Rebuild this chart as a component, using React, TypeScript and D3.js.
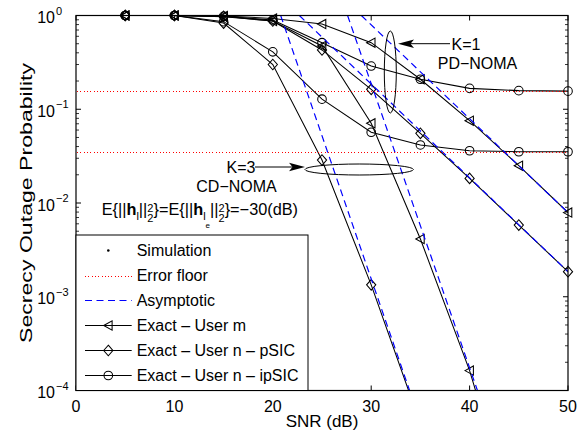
import React from "react";
import * as d3 from "d3";

const snr = [5, 10, 15, 20, 25, 30, 35, 40, 45, 50];
const k1UserM = [1, 1, 0.99, 0.93, 0.81, 0.513, 0.209, 0.0755, 0.025, 0.0079];
const k1PSIC = [1, 1, 0.98, 0.874, 0.429, 0.163, 0.0554, 0.0183, 0.00582, 0.00185];
const k1IPSIC = [1, 1, 0.98, 0.895, 0.513, 0.289, 0.209, 0.167, 0.158, 0.156];
const k3UserM = [1, 1, 0.97, 0.874, 0.473, 0.0708, 0.00413, 0.000163, 0.0000029];
const k3PSIC = [1, 1, 0.83, 0.3, 0.0287, 0.00134, 0.000044];
const k3IPSIC = [1, 1, 0.86, 0.41, 0.128, 0.0568, 0.0416, 0.0361, 0.0352, 0.0352];

const asymK1MSnr = [29.0, 50];
const asymK1MVal = [1, 0.0079];
const asymK1PSnr = [22.7, 50];
const asymK1PVal = [1, 0.00185];
const asymK3MSnr = [27.6, 40.8];
const asymK3MVal = [1, 0.0001];
const asymK3PSnr = [20.8, 33.9];
const asymK3PVal = [1, 0.0001];

const errorFloors = [0.155, 0.0352];

const xTicks = [0, 10, 20, 30, 40, 50];
const yExps = [0, -1, -2, -3, -4];

const legendLabels = [
  "Simulation",
  "Error floor",
  "Asymptotic",
  "Exact \u2013 User m",
  "Exact \u2013 User n \u2013 pSIC",
  "Exact \u2013 User n \u2013 ipSIC",
];

const FONT = "'Liberation Sans', Arial, Helvetica, sans-serif";
const L = 76, R = 568, T = 15.5, B = 390.5;

const x = d3.scaleLinear().domain([0, 50]).range([L, R]);
const y = d3.scaleLog().domain([1e-4, 1]).range([B, T]);

type MarkerKind = "tri" | "dia" | "circ";

function Marker({ kind, cx, cy }: { kind: MarkerKind; cx: number; cy: number }) {
  const common = { fill: "none", stroke: "#000", strokeWidth: 1.05 };
  if (kind === "circ") return <circle cx={cx} cy={cy} r={4.3} {...common} />;
  if (kind === "dia")
    return (
      <path
        d={`M${cx},${cy - 5.3}L${cx + 4.6},${cy}L${cx},${cy + 5.3}L${cx - 4.6},${cy}Z`}
        {...common}
      />
    );
  return (
    <path
      d={`M${cx - 4.6},${cy}L${cx + 3.8},${cy - 4.6}L${cx + 3.8},${cy + 4.6}Z`}
      {...common}
    />
  );
}

const lineGen = d3
  .line<[number, number]>()
  .x((d) => x(d[0]))
  .y((d) => y(d[1]));

function Curve({ vals, kind }: { vals: number[]; kind: MarkerKind }) {
  const pts: [number, number][] = vals.map((v, i) => [snr[i], v]);
  return (
    <g>
      <path d={lineGen(pts) || ""} fill="none" stroke="#000" strokeWidth={1.05} clipPath="url(#plotclip)" />
      {pts
        .filter((p) => p[1] >= 1e-4 && p[1] <= 1)
        .map((p, i) => (
          <Marker key={i} kind={kind} cx={x(p[0])} cy={y(p[1])} />
        ))}
    </g>
  );
}

function Asym({ xs, vs }: { xs: number[]; vs: number[] }) {
  const pts: [number, number][] = xs.map((s, i) => [s, vs[i]]);
  return (
    <path
      d={lineGen(pts) || ""}
      fill="none"
      stroke="#0000ff"
      strokeWidth={1.2}
      strokeDasharray="7,4.5"
      clipPath="url(#plotclip)"
    />
  );
}

export default function App() {
  const minorTicks: number[] = [];
  for (let e = -4; e < 0; e++) {
    for (let m = 2; m <= 9; m++) minorTicks.push(m * Math.pow(10, e));
  }
  const legRowY = (i: number) => 250.5 + 25 * i;
  const legMarkers: (MarkerKind | null)[] = [null, null, null, "tri", "dia", "circ"];

  return (
    <svg
      width={582}
      height={432}
      style={{ position: "absolute", left: 0, top: 0, background: "#fff" }}
      fontFamily={FONT}
    >
      <defs>
        <clipPath id="plotclip">
          <rect x={L} y={T} width={R - L} height={B - T} />
        </clipPath>
      </defs>
      <rect x={0} y={0} width={582} height={432} fill="#fff" />

      {/* curves */}
      <Curve vals={k1UserM} kind="tri" />
      <Curve vals={k1PSIC} kind="dia" />
      <Curve vals={k1IPSIC} kind="circ" />
      <Curve vals={k3UserM} kind="tri" />
      <Curve vals={k3PSIC} kind="dia" />
      <Curve vals={k3IPSIC} kind="circ" />

      {/* asymptotes */}
      <Asym xs={asymK1MSnr} vs={asymK1MVal} />
      <Asym xs={asymK1PSnr} vs={asymK1PVal} />
      <Asym xs={asymK3MSnr} vs={asymK3MVal} />
      <Asym xs={asymK3PSnr} vs={asymK3PVal} />

      {/* error floors */}
      {errorFloors.map((v, i) => {
        const yy = Math.round(y(v)) + 0.5;
        return (
          <line
            key={i}
            x1={L + 1}
            x2={R}
            y1={yy}
            y2={yy}
            stroke="#ff0000"
            strokeWidth={1}
            strokeDasharray="1,2.3"
            shapeRendering="crispEdges"
          />
        );
      })}

      {/* axes box */}
      <rect x={L} y={T} width={R - L} height={B - T} fill="none" stroke="#000" strokeWidth={1.2} />
      {xTicks.map((t) => (
        <g key={t}>
          <line x1={x(t)} x2={x(t)} y1={B} y2={B - 5} stroke="#000" />
          <line x1={x(t)} x2={x(t)} y1={T} y2={T + 5} stroke="#000" />
          <text x={x(t)} y={411.5} textAnchor="middle" fontSize={16}>
            {t}
          </text>
        </g>
      ))}
      {yExps.map((e) => {
        const yy = y(Math.pow(10, e));
        return (
          <g key={e}>
            <line x1={L} x2={L + 5} y1={yy} y2={yy} stroke="#000" />
            <line x1={R} x2={R - 5} y1={yy} y2={yy} stroke="#000" />
            <text x={55} y={yy + 7.5} textAnchor="end" fontSize={16}>
              10
            </text>
            <text x={56} y={yy - 1} fontSize={11}>
              {e === 0 ? "0" : "\u2212" + Math.abs(e)}
            </text>
          </g>
        );
      })}
      {minorTicks.map((v, i) => (
        <g key={i}>
          <line x1={L} x2={L + 3} y1={y(v)} y2={y(v)} stroke="#000" strokeWidth={0.8} />
          <line x1={R} x2={R - 3} y1={y(v)} y2={y(v)} stroke="#000" strokeWidth={0.8} />
        </g>
      ))}

      <text x={(L + R) / 2} y={427} textAnchor="middle" fontSize={17}>
        SNR (dB)
      </text>
      <text
        transform={`translate(32,${(T + B) / 2}) rotate(-90)`}
        textAnchor="middle"
        fontSize={16.5}
        textLength={280}
        lengthAdjust="spacingAndGlyphs"
      >
        Secrecy Outage Probability
      </text>

      {/* annotations */}
      <ellipse cx={390.3} cy={72} rx={6} ry={41} fill="none" stroke="#000" strokeWidth={1} />
      <line x1={410} y1={43.7} x2={450} y2={43.7} stroke="#000" strokeWidth={1} />
      <path d="M398,43.7L414,39.5L410.5,43.7L414,47.9Z" fill="#000" />
      <text x={451.5} y={49.5} fontSize={16}>
        K=1
      </text>
      <text x={477.5} y={68.5} fontSize={16} textAnchor="middle">
        PD{"\u2212"}NOMA
      </text>

      <ellipse cx={359.2} cy={169.5} rx={54.2} ry={5.5} fill="none" stroke="#000" strokeWidth={1} />
      <line x1={255} y1={167} x2={293} y2={167} stroke="#000" strokeWidth={1} />
      <path d="M305,167L289,162.8L292.5,167L289,171.2Z" fill="#000" />
      <text x={226.5} y={173} fontSize={16}>
        K=3
      </text>
      <text x={236.5} y={191.7} fontSize={16} textAnchor="middle">
        CD{"\u2212"}NOMA
      </text>

      <text x={101.7} y={215} fontSize={16.3}>
        <tspan>{"E{||"}</tspan>
        <tspan fontWeight="bold">h</tspan>
        <tspan fontSize={11} dy={5}>l</tspan>
        <tspan dy={-5}>||</tspan>
        <tspan fontSize={11} dy={-3}>2</tspan>
        <tspan fontSize={11} dx={-6.1} dy={9.5}>2</tspan>
        <tspan dy={-6.5}>{"}=E{||"}</tspan>
        <tspan fontWeight="bold">h</tspan>
        <tspan fontSize={11} dy={5}>l</tspan>
        <tspan fontSize={8} dy={8}>e</tspan>
        <tspan dy={-13}>||</tspan>
        <tspan fontSize={11} dy={-3}>2</tspan>
        <tspan fontSize={11} dx={-6.1} dy={9.5}>2</tspan>
        <tspan dy={-6.5}>{"}=\u221230(dB)"}</tspan>
      </text>

      {/* legend */}
      <rect x={L} y={235} width={232} height={B - 235} fill="#fff" stroke="#000" strokeWidth={1} />
      {legendLabels.map((lab, i) => {
        const yy = legRowY(i);
        return (
          <g key={i}>
            {i === 0 && <circle cx={108.3} cy={yy} r={1.3} fill="#000" />}
            {i === 1 && (
              <line
                x1={85}
                x2={131.7}
                y1={Math.round(yy) + 0.5}
                y2={Math.round(yy) + 0.5}
                stroke="#ff0000"
                strokeDasharray="1,2.3"
                shapeRendering="crispEdges"
              />
            )}
            {i === 2 && (
              <line x1={85} x2={131.7} y1={yy} y2={yy} stroke="#0000ff" strokeWidth={1.2} strokeDasharray="7,4.5" />
            )}
            {i >= 3 && (
              <>
                <line x1={85} x2={131.7} y1={yy} y2={yy} stroke="#000" />
                <Marker kind={legMarkers[i] as MarkerKind} cx={108.3} cy={yy} />
              </>
            )}
            <text x={136.7} y={yy + 5.8} fontSize={16}>
              {lab}
            </text>
          </g>
        );
      })}
    </svg>
  );
}
